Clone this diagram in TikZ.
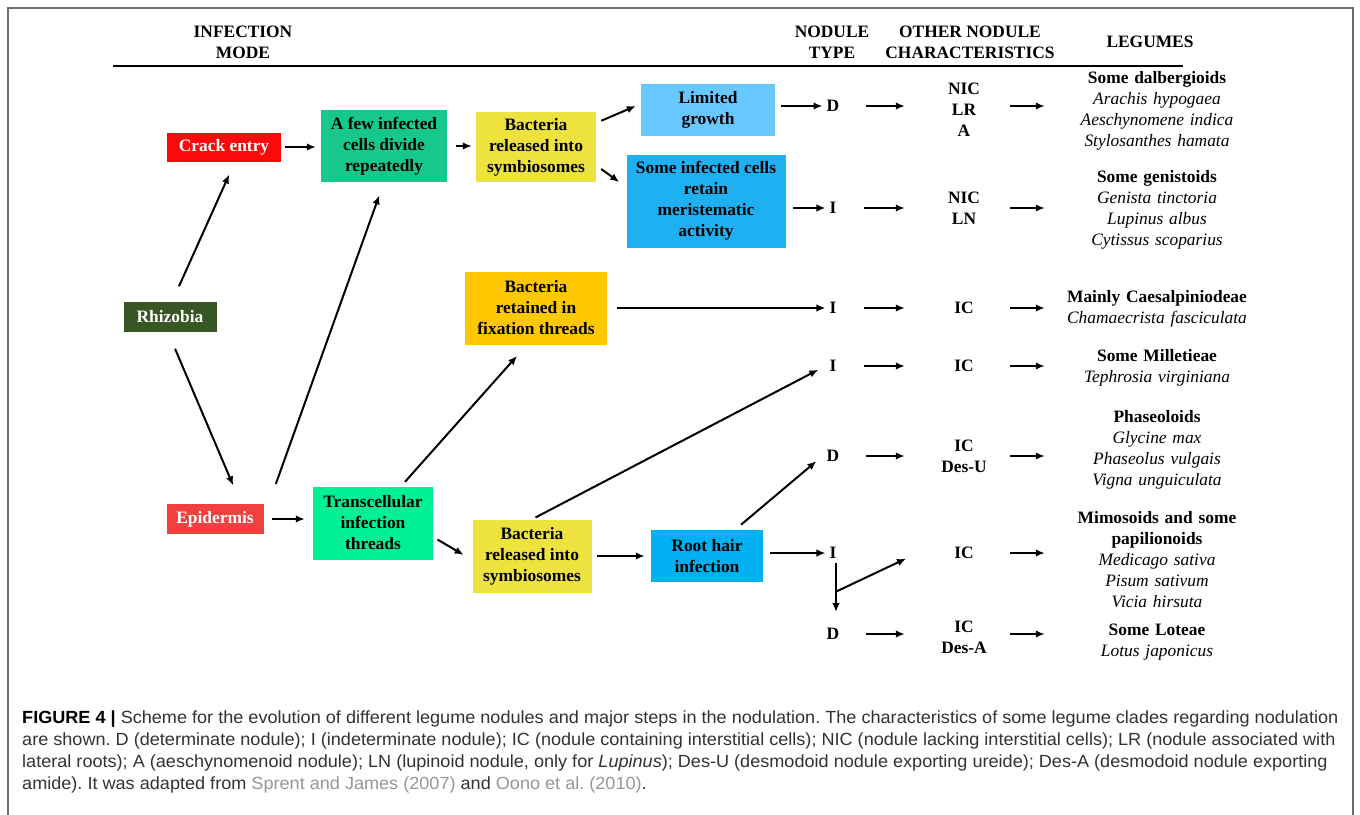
\documentclass[tikz,border=0pt]{standalone}
\usepackage{fontspec}
\setmainfont{Liberation Serif}
\newfontfamily\capfont[FakeStretch=1.028]{Liberation Sans}
\usetikzlibrary{arrows.meta, positioning, calc}
\definecolor{crackred}{RGB}{250,10,10}
\definecolor{dividegreen}{RGB}{22,200,140}
\definecolor{symbyellow}{RGB}{238,226,62}
\definecolor{limitblue}{RGB}{102,200,255}
\definecolor{meristblue}{RGB}{30,176,240}
\definecolor{rhizogreen}{RGB}{56,86,35}
\definecolor{retainorange}{RGB}{255,200,0}
\definecolor{epidred}{RGB}{240,64,64}
\definecolor{transgreen}{RGB}{0,240,150}
\definecolor{rootblue}{RGB}{0,176,240}
\definecolor{captext}{RGB}{50,50,50}
\definecolor{reftext}{RGB}{150,150,150}
\definecolor{framegray}{RGB}{110,110,110}
\newcommand{\boxfont}{\fontsize{17.4}{21}\selectfont\bfseries}
\newcommand{\legfont}{\fontsize{17.4}{21}\selectfont}
\newcommand{\capsize}{\capfont\fontsize{17.6}{22}\selectfont\frenchspacing}
\tikzset{
  box/.style={align=center, font=\boxfont, inner sep=2pt},
  arr/.style={-{Latex[length=9pt,width=7.5pt]}, line width=2pt},
  letter/.style={font=\boxfont, inner sep=4pt},
  charac/.style={font=\boxfont, align=center, minimum width=92pt, inner sep=0pt},
  legume/.style={font=\legfont, align=center, text width=224pt, inner sep=0pt},
  head/.style={font=\boxfont, align=center},
  capline/.style={font=\capsize, text=captext, anchor=base west, inner sep=0pt}
}
\begin{document}
\begin{tikzpicture}[x=1pt, y=-1pt]
    \useasboundingbox (0,0) rectangle (1360,814);
    % Cadre
    \draw[framegray, line width=1.5pt] (8,830) -- (8,8) -- (1353,8) -- (1353,830);

    % Titres
    \node[head] (hInf) at (243,42) {INFECTION\\MODE};
    \node[head] (hType) at (832,42) {NODULE\\TYPE};
    \node[head] (hChar) at (970,42) {OTHER NODULE\\CHARACTERISTICS};
    \node[head] (hLeg) at (1150,42) {LEGUMES};
    \draw[line width=2.2pt] (113,66) -- (1183,66);

    % === MODES D'INFECTION ===
    \node[box, fill=crackred, text=white, minimum width=114pt, minimum height=29pt] (crack) at (224,147) {Crack entry};
    \node[box, fill=dividegreen, minimum width=126pt, minimum height=72pt] (divide) at (384,146) {A few infected\\cells divide\\repeatedly};
    \node[box, fill=symbyellow, minimum width=120pt, minimum height=70pt] (relA) at (536,147) {Bacteria\\released into\\symbiosomes};
    \node[box, fill=limitblue, minimum width=134pt, minimum height=52pt] (limited) at (708,110) {Limited\\growth};
    \node[box, fill=meristblue, minimum width=159pt, minimum height=93pt] (merist) at (706,201) {Some infected cells\\retain\\meristematic\\activity};
    \node[box, fill=rhizogreen, text=white, minimum width=93pt, minimum height=30pt] (rhizo) at (170,317) {Rhizobia};
    \node[box, fill=retainorange, minimum width=142pt, minimum height=73pt] (retained) at (536,308) {Bacteria\\retained in\\fixation threads};
    \node[box, fill=epidred, text=white, minimum width=97pt, minimum height=30pt] (epid) at (215,519) {Epidermis};
    \node[box, fill=transgreen, minimum width=120pt, minimum height=73pt] (trans) at (373,523) {Transcellular\\infection\\threads};
    \node[box, fill=symbyellow, minimum width=119pt, minimum height=73pt] (relB) at (532,556) {Bacteria\\released into\\symbiosomes};
    \node[box, fill=rootblue, minimum width=112pt, minimum height=52pt] (roothair) at (707,556) {Root hair\\infection};

    % === TYPE DE NODULE ===
    \node[letter] (d1) at (833,106) {D};
    \node[letter] (d2) at (833,208) {I};
    \node[letter] (d3) at (833,308) {I};
    \node[letter] (d4) at (833,366) {I};
    \node[letter] (d5) at (833,456) {D};
    \node[letter] (d6) at (833,553) {I};
    \node[letter] (d7) at (833,634) {D};

    % Autres caracteristiques
    \node[charac] (c1) at (964,110) {NIC\\LR\\A};
    \node[charac] (c2) at (964,208) {NIC\\LN};
    \node[charac] (c3) at (964,308) {IC};
    \node[charac] (c4) at (964,366) {IC};
    \node[charac] (c5) at (964,456) {IC\\Des-U};
    \node[charac] (c6) at (964,553) {IC};
    \node[charac] (c7) at (964,637) {IC\\Des-A};

    % Legumineuses
    \node[legume] (l1) at (1157,111) {\textbf{Some dalbergioids}\\\textit{Arachis hypogaea}\\\textit{Aeschynomene indica}\\\textit{Stylosanthes hamata}};
    \node[legume] (l2) at (1157,210) {\textbf{Some genistoids}\\\textit{Genista tinctoria}\\\textit{Lupinus albus}\\\textit{Cytissus scoparius}};
    \node[legume] (l3) at (1157,309) {\textbf{Mainly Caesalpiniodeae}\\\textit{Chamaecrista fasciculata}};
    \node[legume] (l4) at (1157,368) {\textbf{Some Milletieae}\\\textit{Tephrosia virginiana}};
    \node[legume] (l5) at (1157,450) {\textbf{Phaseoloids}\\\textit{Glycine max}\\\textit{Phaseolus vulgais}\\\textit{Vigna unguiculata}};
    \node[legume] (l6) at (1157,560) {\textbf{Mimosoids and some}\\\textbf{papilionoids}\\\textit{Medicago sativa}\\\textit{Pisum sativum}\\\textit{Vicia hirsuta}};
    \node[legume] (l7) at (1157,642) {\textbf{Some Loteae}\\\textit{Lotus japonicus}};

    % Fleches
    \draw[arr, shorten <=17pt, shorten >=14pt] ([xshift=2pt]rhizo.north) -- ([xshift=11pt]crack.south);
    \draw[arr, shorten <=18pt, shorten >=20pt] ([xshift=-2pt]rhizo.south) -- ([xshift=26pt]epid.north);
    \draw[arr, shorten <=21pt, shorten >=14pt] ([xshift=5pt]epid.north east) -- (divide.south);
    \draw[arr, shorten <=4pt, shorten >=5pt] (crack.east) -- (crack.east -| divide.west);
    \draw[arr, shorten <=9pt, shorten >=4pt] (divide.east) -- (divide.east -| relA.west);
    \draw[arr] ([shift={(5pt,-9pt)}]relA.north east) -- ([shift={(-5pt,4pt)}]limited.west);
    \draw[arr] ([shift={(5pt,-22pt)}]relA.east) -- ([shift={(-7pt,19pt)}]merist.west);
    \draw[arr, shorten <=6pt] (limited.east |- d1) -- (d1.west);
    \draw[arr, shorten <=7pt] (merist.east |- d2) -- (d2.west);
    \draw[arr, shorten <=8pt, shorten >=8pt] (epid.east) -- (epid.east -| trans.west);
    \draw[arr, shorten <=6pt, shorten >=15pt] ([xshift=28pt]trans.north) -- ([xshift=-9pt]retained.south);
    \draw[arr, shorten <=5pt, shorten >=10pt] ([yshift=-14pt]trans.east) -- ([yshift=-4pt]relB.west);
    \draw[arr, shorten <=10pt] (retained.east |- d3) -- (d3.west);
    \draw[arr, shorten <=4pt, shorten >=8pt] (relB.north) -- (d4.west);
    \draw[arr, shorten <=5pt, shorten >=6pt] (relB.east) -- (relB.east -| roothair.west);
    \draw[arr, shorten <=8pt, shorten >=8pt] ([xshift=28pt]roothair.north) -- (d5.west);
    \draw[arr, shorten <=7pt] (roothair.east |- d6) -- (d6.west);
    \draw[arr, shorten >=12pt] ([xshift=3pt]d6.south) -- coordinate[pos=0.47] (branch) ([xshift=3pt]d7.north);
    \draw[arr, shorten >=13pt] (branch) -- (c6.west);

    % Type -> caracteristiques -> legumineuses
    \foreach \r in {1,2,3,4,5,7}
        \draw[arr, shorten <=23pt, shorten >=13pt] (d\r.east) -- (d\r -| c\r.west);
    \foreach \r in {1,...,7}
        \draw[arr] (c\r.east |- d\r) -- (d\r -| l\r.west);

    % Legende
    \node[capline] (cap1) at (22,723) {\textbf{\color{black}FIGURE 4 |} Scheme for the evolution of different legume nodules and major steps in the nodulation. The characteristics of some legume clades regarding nodulation};
    \node[capline] (cap2) at (22,745) {are shown. D (determinate nodule); I (indeterminate nodule); IC (nodule containing interstitial cells); NIC (nodule lacking interstitial cells); LR (nodule associated with};
    \node[capline] (cap3) at (22,767) {lateral roots); A (aeschynomenoid nodule); LN (lupinoid nodule, only for \textit{Lupinus}); Des-U (desmodoid nodule exporting ureide); Des-A (desmodoid nodule exporting};
    \node[capline] (cap4) at (22,789) {amide). It was adapted from {\color{reftext}Sprent and James (2007)} and {\color{reftext}Oono et al. (2010)}.};
\end{tikzpicture}
\end{document}
